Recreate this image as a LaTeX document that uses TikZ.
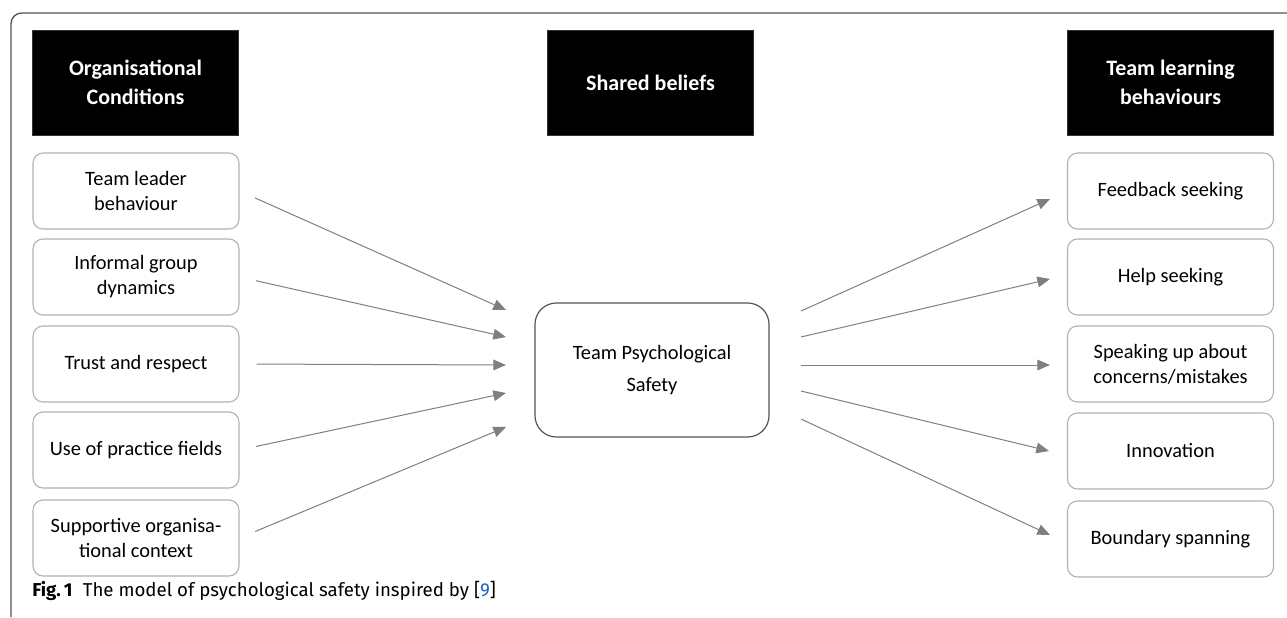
\documentclass[tikz,border=0pt]{standalone}
\usepackage{fontspec}
\setmainfont{Carlito}
\newfontfamily\capfont{Fira Sans}
\usetikzlibrary{arrows.meta}
\definecolor{arrgray}{HTML}{7F7F7F}
\definecolor{boxgray}{HTML}{B0B0B0}
\definecolor{framegray}{HTML}{555555}
\definecolor{linkblue}{HTML}{1A5FC8}
\begin{document}
\begin{tikzpicture}[x=0.75pt,y=-0.75pt,
  header/.style={fill=black,draw=black!80,text=white,minimum width=154.5pt,minimum height=78.75pt,
    inner sep=0pt,align=center,font=\fontsize{16.5}{22}\selectfont\bfseries},
  itembox/.style={draw=boxgray,line width=0.8pt,rounded corners=7.5pt,minimum width=154.5pt,
    minimum height=57pt,inner sep=0pt,align=center,font=\fontsize{15.3}{18.75}\selectfont},
  centerbox/.style={draw=framegray,line width=0.9pt,rounded corners=16pt,minimum width=175.5pt,
    minimum height=100.5pt,inner sep=0pt,align=center,font=\fontsize{15.3}{24}\selectfont},
  arr/.style={draw=arrgray,line width=0.75pt,-{Triangle[length=9.5pt,width=8pt,fill=arrgray]}}
]
\useasboundingbox (0,0) rectangle (1287,617);
% outer frame
\draw[framegray,line width=1pt,rounded corners=8pt] (11,617) -- (11,13) -- (1287,13);
% headers
\node[header] (h1) at (135.5,82.5) {Organisational\\Conditions};
\node[header] (h2) at (650.5,82.5) {Shared beliefs};
\node[header] (h3) at (1170.5,82.5) {Team learning\\behaviours};
% left boxes
\node[itembox] (l1) at (136,191) {Team leader\\behaviour};
\node[itembox] (l2) at (136,277) {Informal group\\dynamics};
\node[itembox] (l3) at (136,364) {Trust and respect};
\node[itembox] (l4) at (136,450) {Use of practice fields};
\node[itembox] (l5) at (136,538) {Supportive organisa-\\tional context};
% right boxes
\node[itembox] (r1) at (1170.5,191) {Feedback seeking};
\node[itembox] (r2) at (1170.5,277) {Help seeking};
\node[itembox] (r3) at (1170.5,364) {Speaking up about\\concerns/mistakes};
\node[itembox] (r4) at (1170.5,451) {Innovation};
\node[itembox] (r5) at (1170.5,539) {Boundary spanning};
% center
\node[centerbox] (c) at (652,370) {Team Psychological\\Safety};
% arrow ends near center box
\coordinate (ci1) at (506,310);
\coordinate (ci2) at (506,337);
\coordinate (ci3) at (506,365);
\coordinate (ci4) at (506,393);
\coordinate (ci5) at (506,427);
\coordinate (co1) at (801,311);
\coordinate (co2) at (801,337);
\coordinate (co3) at (801,365);
\coordinate (co4) at (801,391);
\coordinate (co5) at (801,419);
\coordinate (re1) at (1050,199);
\coordinate (re2) at (1050,279);
\coordinate (re3) at (1050,365);
\coordinate (re4) at (1049,451);
\coordinate (re5) at (1050,535);
\draw[arr,shorten <=12.75pt] (l1.east) -- (ci1);
\draw[arr,shorten <=12.75pt] (l2.east) -- (ci2);
\draw[arr,shorten <=12.75pt] (l3.east) -- (ci3);
\draw[arr,shorten <=12.75pt] (l4.east) -- (ci4);
\draw[arr,shorten <=12.75pt] (l5.east) -- (ci5);
\draw[arr] (co1) -- (re1);
\draw[arr] (co2) -- (re2);
\draw[arr] (co3) -- (re3);
\draw[arr] (co4) -- (re4);
\draw[arr] (co5) -- (re5);
% caption
\node[anchor=base west,inner sep=0pt,font=\capfont\fontsize{14}{17}\selectfont] (cap) at (32,596)
  {\textbf{Fig.\,1}\hspace{0.55em}The model of psychological safety inspired by [\textcolor{linkblue}{9}]};
\end{tikzpicture}
\end{document}
